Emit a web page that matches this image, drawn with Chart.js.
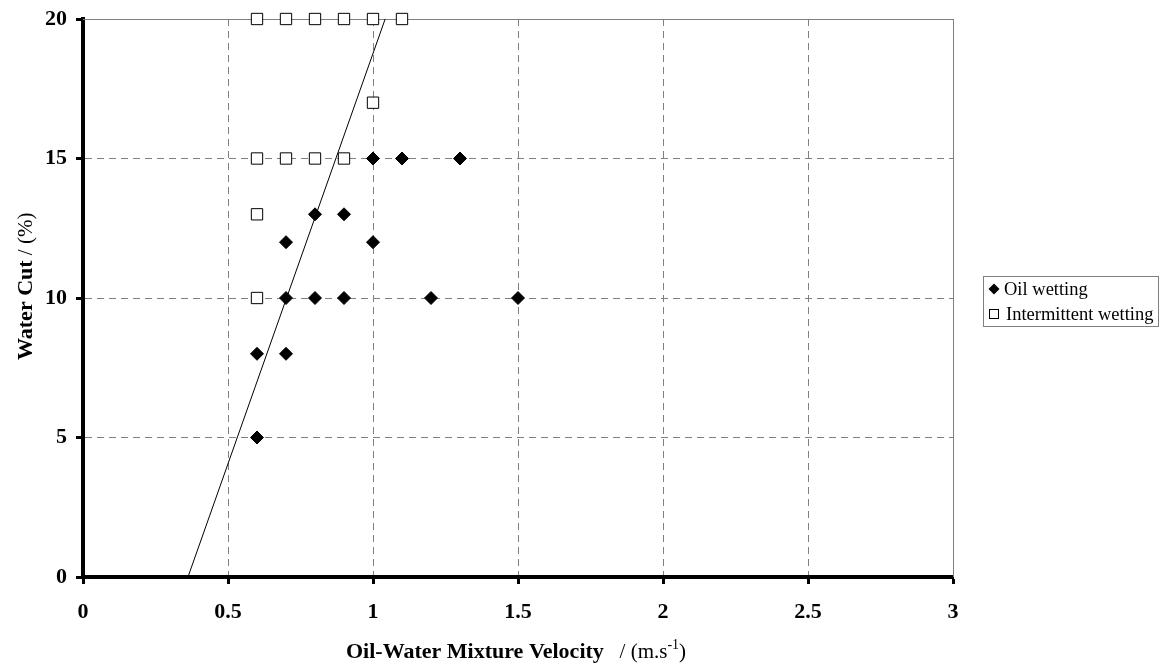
<!DOCTYPE html>
<html>
<head>
<meta charset="utf-8">
<script src="https://cdn.jsdelivr.net/npm/chart.js@4.4.1/dist/chart.umd.min.js"></script>
<style>
  body { margin: 0; background: #fff; }
  #wrap { width: 1161px; height: 668px; }
</style>
</head>
<body>
<div id="wrap"><canvas id="wettingChart" width="1161" height="668"></canvas></div>
<script>
// --- data ---
const oilX = [0.6, 0.6, 0.7, 0.7, 0.8, 0.9, 1.2, 1.5, 0.7, 1.0, 0.8, 0.9, 1.0, 1.1, 1.3];
const oilY = [5, 8, 8, 10, 10, 10, 10, 10, 12, 12, 13, 13, 15, 15, 15];

const interX = [0.6, 0.6, 0.6, 0.7, 0.8, 0.9, 1.0, 0.6, 0.7, 0.8, 0.9, 1.0, 1.1];
const interY = [10, 13, 15, 15, 15, 15, 17, 20, 20, 20, 20, 20, 20];

// transition line
const lineX = [0.362, 1.042];
const lineY = [0, 20];

const xTicks = [0, 0.5, 1, 1.5, 2, 2.5, 3];
const yTicks = [0, 5, 10, 15, 20];

const legendLabels = ['Oil wetting', 'Intermittent wetting'];

const SERIF = '"Liberation Serif", "Times New Roman", serif';

function toPoints(xs, ys) {
    return xs.map((x, i) => ({ x: x, y: ys[i] }));
}

// solid top/right frame over the dashed grid
const framePlugin = {
    id: 'frame',
    beforeDatasetsDraw(chart) {
        const { ctx, chartArea: a } = chart;
        ctx.save();
        ctx.strokeStyle = '#808080';
        ctx.lineWidth = 1;
        ctx.beginPath();
        ctx.moveTo(a.left, a.top + 0.5);
        ctx.lineTo(a.right + 0.5, a.top + 0.5);
        ctx.lineTo(a.right + 0.5, a.bottom);
        ctx.stroke();
        ctx.restore();
    }
};

// axis titles with mixed bold / normal text
const titlePlugin = {
    id: 'titles',
    afterDraw(chart) {
        const { ctx } = chart;
        ctx.save();
        ctx.fillStyle = '#000';
        ctx.textBaseline = 'alphabetic';
        ctx.textAlign = 'left';

        const bold = 'bold 22px ' + SERIF;
        const norm = '21px ' + SERIF;
        const sup = '14px ' + SERIF;

        // x title
        const p1 = 'Oil-Water Mixture Velocity';
        const p2 = '   / (m.s';
        const p3 = '-1';
        const p4 = ')';
        ctx.font = bold; const w1 = ctx.measureText(p1).width;
        ctx.font = norm; const w2 = ctx.measureText(p2).width;
        ctx.font = sup; const w3 = ctx.measureText(p3).width;
        let x = 346;
        const by = 658;
        ctx.font = bold; ctx.fillText(p1, x, by); x += w1;
        ctx.font = norm; ctx.fillText(p2, x, by); x += w2;
        ctx.font = sup; ctx.fillText(p3, x, by - 9); x += w3;
        ctx.font = norm; ctx.fillText(p4, x, by);

        // y title (rotated)
        const q1 = 'Water Cut';
        const q2 = ' / (%)';
        ctx.font = bold; const v1 = ctx.measureText(q1).width;
        ctx.translate(32, 360);
        ctx.rotate(-Math.PI / 2);
        ctx.font = bold; ctx.fillText(q1, 0, 0);
        ctx.font = norm; ctx.fillText(q2, v1, 0);
        ctx.restore();
    }
};

// boxed legend at the right
const legendPlugin = {
    id: 'boxLegend',
    afterDraw(chart) {
        const { ctx } = chart;
        const left = 983, top = 276, w = 175, h = 50;
        ctx.save();
        ctx.strokeStyle = '#808080';
        ctx.lineWidth = 1;
        ctx.strokeRect(left + 0.5, top + 0.5, w, h);

        ctx.font = '18.5px ' + SERIF;
        ctx.fillStyle = '#000';
        ctx.textBaseline = 'middle';
        ctx.textAlign = 'left';

        // diamond
        const cy1 = top + 13, cy2 = top + 38;
        ctx.beginPath();
        ctx.moveTo(994, cy1 - 5.5);
        ctx.lineTo(999.5, cy1);
        ctx.lineTo(994, cy1 + 5.5);
        ctx.lineTo(988.5, cy1);
        ctx.closePath();
        ctx.fill();
        ctx.fillText(legendLabels[0], 1004, cy1 + 1);

        // square
        ctx.fillStyle = '#fff';
        ctx.strokeStyle = '#000';
        ctx.fillRect(989.5, cy2 - 4.5, 9, 9);
        ctx.strokeRect(989.5, cy2 - 4.5, 9, 9);
        ctx.fillStyle = '#000';
        ctx.fillText(legendLabels[1], 1006, cy2 + 1);
        ctx.restore();
    }
};

const ctx = document.getElementById('wettingChart').getContext('2d');

new Chart(ctx, {
    type: 'scatter',
    data: {
        datasets: [
            {
                label: 'line',
                type: 'line',
                data: toPoints(lineX, lineY),
                borderColor: '#000',
                borderWidth: 1,
                pointRadius: 0,
                fill: false,
                order: 3
            },
            {
                label: legendLabels[1],
                data: toPoints(interX, interY),
                pointStyle: 'rect',
                pointRadius: 8,
                backgroundColor: '#fff',
                borderColor: '#000',
                borderWidth: 1,
                clip: false,
                order: 2
            },
            {
                label: legendLabels[0],
                data: toPoints(oilX, oilY),
                pointStyle: 'rectRot',
                pointRadius: 6.5,
                backgroundColor: '#000',
                borderColor: '#000',
                borderWidth: 1,
                clip: false,
                order: 1
            }
        ]
    },
    options: {
        responsive: false,
        animation: false,
        layout: { padding: { top: 19, right: 208, left: 0, bottom: 0 } },
        plugins: {
            legend: { display: false },
            tooltip: { enabled: false }
        },
        scales: {
            x: {
                type: 'linear',
                min: 0,
                max: 3,
                afterBuildTicks(scale) {
                    scale.ticks = xTicks.map(v => ({ value: v }));
                },
                afterFit(scale) {
                    scale.height = 91;
                    scale.paddingLeft = 0;
                    scale.paddingRight = 0;
                },
                ticks: {
                    font: { family: SERIF, size: 22, weight: 'bold' },
                    color: '#000',
                    padding: 15,
                    maxRotation: 0,
                    callback: v => String(v)
                },
                grid: {
                    color: '#808080',
                    lineWidth: 1,
                    tickLength: 7,
                    tickColor: '#000',
                    tickWidth: 3
                },
                border: { display: true, color: '#000', width: 4, dash: [7, 5] }
            },
            y: {
                type: 'linear',
                min: 0,
                max: 20,
                afterBuildTicks(scale) {
                    scale.ticks = yTicks.map(v => ({ value: v }));
                },
                afterFit(scale) {
                    scale.width = 83;
                    scale.paddingTop = 0;
                    scale.paddingBottom = 0;
                },
                ticks: {
                    font: { family: SERIF, size: 22, weight: 'bold' },
                    color: '#000',
                    padding: 9,
                    callback: v => String(v)
                },
                grid: {
                    color: '#808080',
                    lineWidth: 1,
                    tickLength: 7,
                    tickColor: '#000',
                    tickWidth: 3
                },
                border: { display: true, color: '#000', width: 4, dash: [7, 5] }
            }
        }
    },
    plugins: [framePlugin, titlePlugin, legendPlugin]
});
</script>
</body>
</html>
